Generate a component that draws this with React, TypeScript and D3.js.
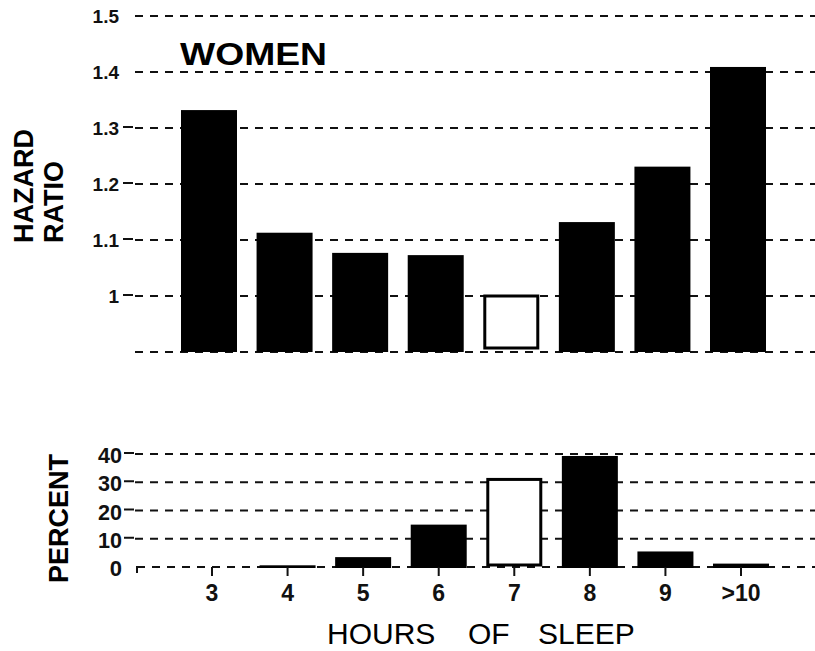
import React from "react";
import * as d3 from "d3";

const categories = ["3", "4", "5", "6", "7", "8", "9", ">10"];
const hazardRatio = [1.332, 1.113, 1.077, 1.073, 1.0, 1.132, 1.231, 1.409];
const percent = [0, 0.6, 3.5, 15, 31, 39.3, 5.5, 1.2];
const refCategory = "7";
const hazardTicks = [1.5, 1.4, 1.3, 1.2, 1.1, 1.0];
const hazardTickMarks = [1.3, 1.2, 1.1, 1.0];
const hazardBase = 0.9;
const percentTicks = [40, 30, 20, 10, 0];

const FONT = "'Liberation Sans', Arial, Helvetica, sans-serif";

export default function App() {
  const W = 815;
  const H = 651;
  const yTop = d3.scaleLinear().domain([hazardBase, 1.5]).range([352, 16]);
  const yBot = d3.scaleLinear().domain([0, 40]).range([567, 454]);
  const xTop = d3.scaleBand().domain(categories).range([181, 766]).paddingInner(0.259).paddingOuter(0);
  const xBot = d3.scaleBand().domain(categories).range([184, 769]).paddingInner(0.259).paddingOuter(0);
  const gridX0 = 135;
  const gridX1 = 815;
  const dash = "8,7";
  const fmt = (d: number) => (d === 1 ? "1" : d.toFixed(1));

  return (
    <svg
      width={W}
      height={H}
      style={{ position: "absolute", left: 0, top: 0, background: "#fff" }}
      fontFamily={FONT}
    >
      <rect x={0} y={0} width={W} height={H} fill="#fff" />
      {/* top chart grid */}
      {[...hazardTicks, hazardBase].map((t) => (
        <line
          key={"tg" + t}
          x1={gridX0}
          x2={gridX1}
          y1={yTop(t)}
          y2={yTop(t)}
          stroke="#111"
          strokeWidth={2}
          strokeDasharray={dash}
        />
      ))}
      {hazardTickMarks.map((t) => (
        <line key={"tm" + t} x1={123} x2={133} y1={yTop(t) - 1} y2={yTop(t) - 1} stroke="#111" strokeWidth={2} />
      ))}
      {hazardTicks.map((t) => (
        <text
          key={"tl" + t}
          x={119}
          y={yTop(t) + 7}
          textAnchor="end"
          fontSize={19}
          fontWeight="bold"
          fill="#111"
        >
          {fmt(t)}
        </text>
      ))}
      {/* top bars */}
      {categories.map((c, i) => {
        const isRef = c === refCategory;
        const x = xTop(c)!;
        const w = xTop.bandwidth();
        const y0 = yTop(hazardRatio[i]);
        const y1 = yTop(hazardBase);
        return isRef ? (
          <rect key={"tb" + c} x={x + 1.5} y={y0} width={w - 3} height={y1 - y0 - 4} fill="#fff" stroke="#000" strokeWidth={3} />
        ) : (
          <rect key={"tb" + c} x={x} y={y0} width={w} height={y1 - y0} fill="#000" />
        );
      })}
      <text x={180} y={65} fontSize={32} fontWeight="bold" textLength={147} lengthAdjust="spacingAndGlyphs" fill="#000">
        WOMEN
      </text>
      <text transform="translate(33,243) rotate(-90)" fontSize={27} fontWeight="bold" fill="#000">
        HAZARD
      </text>
      <text transform="translate(63,243) rotate(-90)" fontSize={27} fontWeight="bold" fill="#000">
        RATIO
      </text>

      {/* bottom chart grid */}
      {percentTicks.map((t) => (
        <line
          key={"bg" + t}
          x1={t === 0 ? 137 : gridX0}
          x2={gridX1}
          y1={yBot(t)}
          y2={yBot(t)}
          stroke="#111"
          strokeWidth={2}
          strokeDasharray={dash}
        />
      ))}
      {percentTicks
        .filter((t) => t !== 0)
        .map((t) => (
          <line key={"bm" + t} x1={124} x2={134} y1={yBot(t) - 1} y2={yBot(t) - 1} stroke="#111" strokeWidth={2} />
        ))}
      <path d={`M137,${yBot(0) + 6}V${yBot(0)}H143`} fill="none" stroke="#111" strokeWidth={2} />
      {percentTicks.map((t) => (
        <text
          key={"bl" + t}
          x={122}
          y={yBot(t) + 9}
          textAnchor="end"
          fontSize={22}
          fontWeight="bold"
          fill="#111"
          textLength={t === 0 ? undefined : 24}
          lengthAdjust="spacingAndGlyphs"
        >
          {t}
        </text>
      ))}
      {/* bottom bars */}
      {categories.map((c, i) => {
        const isRef = c === refCategory;
        const x = xBot(c)!;
        const w = xBot.bandwidth();
        const y0 = yBot(percent[i]);
        const y1 = yBot(0);
        if (percent[i] <= 0) return null;
        return isRef ? (
          <rect key={"bb" + c} x={x + 1.5} y={y0} width={w - 3} height={y1 - y0 - 2} fill="#fff" stroke="#000" strokeWidth={3} />
        ) : (
          <rect key={"bb" + c} x={x} y={y0} width={w} height={Math.max(2, y1 - y0 + 1)} fill="#000" />
        );
      })}
      {categories.map((c) => {
        const cx = xBot(c)! + xBot.bandwidth() / 2;
        return (
          <g key={"bx" + c}>
            <line x1={cx} x2={cx} y1={yBot(0)} y2={yBot(0) + 9} stroke="#111" strokeWidth={2} />
            <text x={cx} y={601} textAnchor="middle" fontSize={23} fontWeight="bold" fill="#111">
              {c}
            </text>
          </g>
        );
      })}
      <text transform="translate(68,583) rotate(-90)" fontSize={27} fontWeight="bold" fill="#000">
        PERCENT
      </text>
      <text x={327} y={644} fontSize={30} fill="#000">HOURS</text>
      <text x={468} y={644} fontSize={30} fill="#000">OF</text>
      <text x={538} y={644} fontSize={30} fill="#000">SLEEP</text>
    </svg>
  );
}
